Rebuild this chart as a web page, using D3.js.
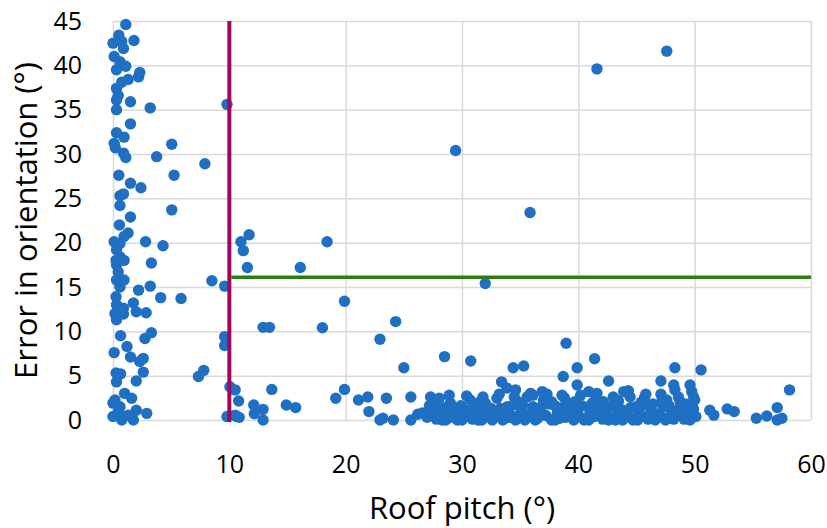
<!DOCTYPE html>
<meta charset="utf-8">
<style>
body { margin: 0; background: #fff; }
.grid line { stroke: #d9d9d9; stroke-width: 1.5px; }
.grid path { display: none; }
.tick text { font: 25px "Open Sans", sans-serif; fill: #000; }
.title { font: 31px "Open Sans", sans-serif; fill: #000; }
.dot { fill: #1f6fc2; }
</style>
<body>
<script src="https://d3js.org/d3.v7.min.js"></script>
<script>

// roof pitch (deg), orientation error (deg)
var flatRoofs = [
  [1.1,44.6],[0.5,43.4],[0,42.5],[0.75,42.7],[1.8,42.8],[0.9,41.9],[0.1,41],[0.6,40.4],[0.3,39.5],[1.1,39.9],
  [2.3,39.2],[2.2,38.7],[1.3,38.4],[0.75,38.1],[0.3,37.4],[0.45,36.6],[1.5,35.9],[0.3,36.1],[0.3,35],[3.2,35.2],
  [1.5,33.4],[0.3,32.4],[0.95,31.9],[0.1,31.2],[0.2,30.7],[5.05,31.1],[0.9,30.1],[1.1,29.6],[3.75,29.7],[5.25,27.6],
  [0.5,27.6],[1.5,26.7],[2.4,26.2],[0.9,25.5],[0.6,25.3],[0.6,24.2],[5.05,23.7],[1.5,22.9],[7.9,28.9],[9.8,35.6],
  [0.55,22],[1.3,21.1],[0.95,20.7],[0.1,20.1],[0.6,19.9],[2.8,20.1],[4.3,19.65],[0.3,19.2],[0.6,18.4],[0.26,18],
  [0.95,18],[3.3,17.7],[0.3,17.5],[0.45,16.7],[0.3,15.8],[0.95,15.8],[0.6,15],[2.2,14.65],[3.2,15.1],[4.1,13.8],
  [5.85,13.7],[0.26,13.9],[0.3,13],[0.9,12.6],[1.75,13.2],[0.17,12],[0.9,11.95],[2.0,12.2],[2.85,12.1],[0.3,11.3],
  [3.3,9.85],[2.75,9.2],[0.65,9.5],[0.1,7.6],[1.2,8.3],[1.5,7.1],[2.6,6.95],[2.3,6.6],[2.6,5.4],[0.26,5.3],
  [0.65,5.2],[0.3,4.3],[2.0,4.4],[1.0,3.0],[0.17,2.25],[1.6,2.45],[0,1.9],[0.6,1.5],[2.0,1.1],[2.9,0.75],
  [0,0.4],[0.75,0],[1.75,0],[1.3,0.55],[0.45,0.95],[7.35,4.9],[7.8,5.6],[8.5,15.7],[9.6,15.1],[9.6,9.4],
  [9.6,8.4],[9.8,0.4]
];

var pitchedRoofs = [
  [10.05,3.75],[10.5,3.4],[10.8,2.15],[10.5,0.55],[10.85,0.3],[10.6,0.4],[12.1,1.7],[12.9,1.2],[12.15,0.7],[12.9,0],
  [12.9,10.45],[13.45,10.45],[13.65,3.45],[11,20.1],[11.7,20.9],[11.2,19.1],[11.55,17.2],[16.1,17.2],[18.4,20.1],[19.9,13.4],
  [18.0,10.4],[22.95,9.1],[14.9,1.7],[15.7,1.4],[19.15,2.45],[19.9,3.45],[21.1,2.25],[21.9,2.6],[22,0.95],[22.95,0],
  [24.3,11.1],[28.5,7.15],[30.75,6.65],[25.0,5.9],[34.4,5.9],[35.3,6.1],[32.0,15.4],[29.45,30.4],[35.85,23.4],[23.5,2.45],
  [25.6,2.6],[26.2,0.65],[25.6,0],[24.1,0],[23.2,0.2],[28.05,2.45],[38.95,8.65],[39.9,5.9],[41.4,6.9],[38.7,4.9],
  [33.4,4.3],[33.85,3.6],[34.6,3.4],[36.9,3.2],[39.9,3.95],[40.9,3.2],[30.7,2.25],[31.55,2.05],[33,2.45],[35.6,2.6],
  [36.1,2.8],[37.7,2.05],[38.6,2.8],[39.7,2.05],[41.6,2.25],[48.3,5.9],[50.55,5.65],[42.6,4.4],[47.1,4.4],[45.8,2.9],
  [43.9,3.2],[44.45,2.6],[43.45,2.15],[48.2,3.95],[48.3,3.4],[48.6,2.6],[48.75,2.05],[49.6,3.95],[49.75,3.2],[49.9,2.6],
  [50.0,2.25],[51.3,1.1],[51.65,0.55],[52.8,1.25],[53.4,0.95],[55.3,0.2],[56.2,0.45],[57.1,1.4],[57.1,0],[57.5,0.2],
  [58.15,3.4],[42.15,2.05],[41.45,2.25],[47.2,2.25],[47.6,2.25],[41.6,39.6],[47.6,41.6]
];

// the crowded band along the bottom, 27-50 deg
var denseBand = [
  [27.0,0.3],[27.4,1.0],[27.8,0.1],[28.1,0.7],[28.5,1.4],[28.8,0.2],[29.2,0.9],[29.6,0.0],[29.9,1.6],[30.2,0.5],
  [30.5,1.1],[30.9,0.1],[31.2,0.8],[31.6,1.5],[31.9,0.3],[32.3,1.0],[32.6,0.0],[33.0,0.6],[33.3,1.3],[33.7,0.2],
  [34.0,0.9],[34.4,1.7],[34.7,0.4],[35.1,1.2],[35.4,0.0],[35.8,0.7],[36.1,1.5],[36.5,0.2],[36.8,1.0],[37.2,0.5],
  [37.5,1.8],[37.9,0.1],[38.2,0.8],[38.6,1.4],[38.9,0.3],[39.3,1.1],[39.6,0.0],[40.0,0.6],[40.3,1.6],[40.7,0.2],
  [41.0,0.9],[41.4,0.4],[41.7,1.3],[42.1,0.1],[42.4,0.8],[42.8,1.5],[43.1,0.3],[43.5,1.0],[43.8,0.0],[44.2,0.6],
  [44.5,1.4],[44.9,0.2],[45.2,0.9],[45.6,1.7],[45.9,0.4],[46.3,1.1],[46.6,0.0],[47.0,0.7],[47.3,1.5],[47.7,0.2],
  [48.0,1.0],[48.4,0.5],[48.7,1.3],[49.1,0.1],[49.4,0.8],[49.8,1.6],[50.1,0.4],
  [27.6,2.0],[28.3,0.0],[29.0,1.9],[29.4,0.5],[30.0,0.0],[30.7,0.4],[31.4,0.0],[32.0,1.9],[32.8,0.5],[33.5,0.0],
  [34.2,0.3],[34.9,2.0],[35.6,0.4],[36.3,0.0],[37.0,2.2],[37.7,0.0],[38.4,0.2],[39.1,1.9],[39.8,0.3],[40.5,0.0],
  [41.2,1.9],[41.9,0.6],[42.6,0.0],[43.3,1.9],[44.0,0.3],[44.7,0.0],[45.4,2.0],[46.1,0.6],[46.8,0.3],[47.5,0.0],
  [48.2,0.1],[48.9,0.6],[49.6,0.0],[26.6,0.8],[27.2,1.6],
  [27.3,2.6],[28.0,1.2],[28.9,2.8],[29.7,1.2],[30.4,2.7],[31.0,1.4],[31.8,2.6],[32.5,1.3],[33.2,2.9],[33.9,1.5],
  [34.5,2.6],[35.2,1.7],[35.9,3.0],[36.6,1.3],[37.3,2.9],[38.0,1.6],[38.8,2.5],[39.5,1.5],[40.2,2.8],[40.9,1.5],
  [41.6,3.0],[42.3,1.6],[43.0,2.6],[43.7,1.2],[44.3,3.3],[45.0,1.5],[45.7,2.6],[46.4,1.8],[47.1,2.9],[47.8,1.6],
  [48.5,1.0],[49.2,1.8],[49.9,1.2],[45.1,0.0],[46.0,0.1],[43.2,0.0],[40.9,0.0],[38.0,0.0],[34.6,0.0],[31.7,0.0],
  [28.6,0.0]
];

var xTicks = [0, 10, 20, 30, 40, 50, 60];
var yTicks = [0, 5, 10, 15, 20, 25, 30, 35, 40, 45];
var pitchLimit = 10;     // vertical line
var errorLimit = 16.1;   // horizontal line, right of pitchLimit

var width = 827, height = 528;
var plotLeft = 113, plotRight = 811, plotTop = 21, plotBottom = 420;

var x = d3.scaleLinear().domain([0, 60]).range([plotLeft, plotRight]);
var y = d3.scaleLinear().domain([0, 45]).range([plotBottom, plotTop]);

var svg = d3.select("body").append("svg")
    .attr("width", width)
    .attr("height", height);

svg.append("g")
    .attr("class", "grid")
    .attr("transform", "translate(" + plotLeft + ",0)")
    .call(d3.axisLeft(y).tickValues(yTicks).tickSize(-(plotRight - plotLeft)).tickPadding(31));

svg.append("g")
    .attr("class", "grid")
    .attr("transform", "translate(0," + plotBottom + ")")
    .call(d3.axisBottom(x).tickValues(xTicks).tickSize(-(plotBottom - plotTop)).tickPadding(35));

var points = flatRoofs.concat(pitchedRoofs, denseBand);

svg.append("g")
  .selectAll("circle")
  .data(points)
  .enter().append("circle")
    .attr("class", "dot")
    .attr("cx", function(d) { return x(d[0]); })
    .attr("cy", function(d) { return y(d[1]); })
    .attr("r", 5.7);

svg.append("line")
    .attr("x1", x(pitchLimit)).attr("x2", x(pitchLimit))
    .attr("y1", y(45)).attr("y2", y(0) + 2)
    .attr("stroke", "#a0065c")
    .attr("stroke-width", 4);

svg.append("line")
    .attr("x1", x(pitchLimit) + 2).attr("x2", x(60))
    .attr("y1", y(errorLimit)).attr("y2", y(errorLimit))
    .attr("stroke", "#2a7d12")
    .attr("stroke-width", 3.5);

svg.append("text")
    .attr("class", "title")
    .attr("x", (plotLeft + plotRight) / 2)
    .attr("y", 519)
    .attr("text-anchor", "middle")
    .text("Roof pitch (°)");

svg.append("text")
    .attr("class", "title")
    .attr("transform", "translate(37," + ((plotTop + plotBottom) / 2) + ") rotate(-90)")
    .attr("text-anchor", "middle")
    .text("Error in orientation (°)");

</script>
</body>
